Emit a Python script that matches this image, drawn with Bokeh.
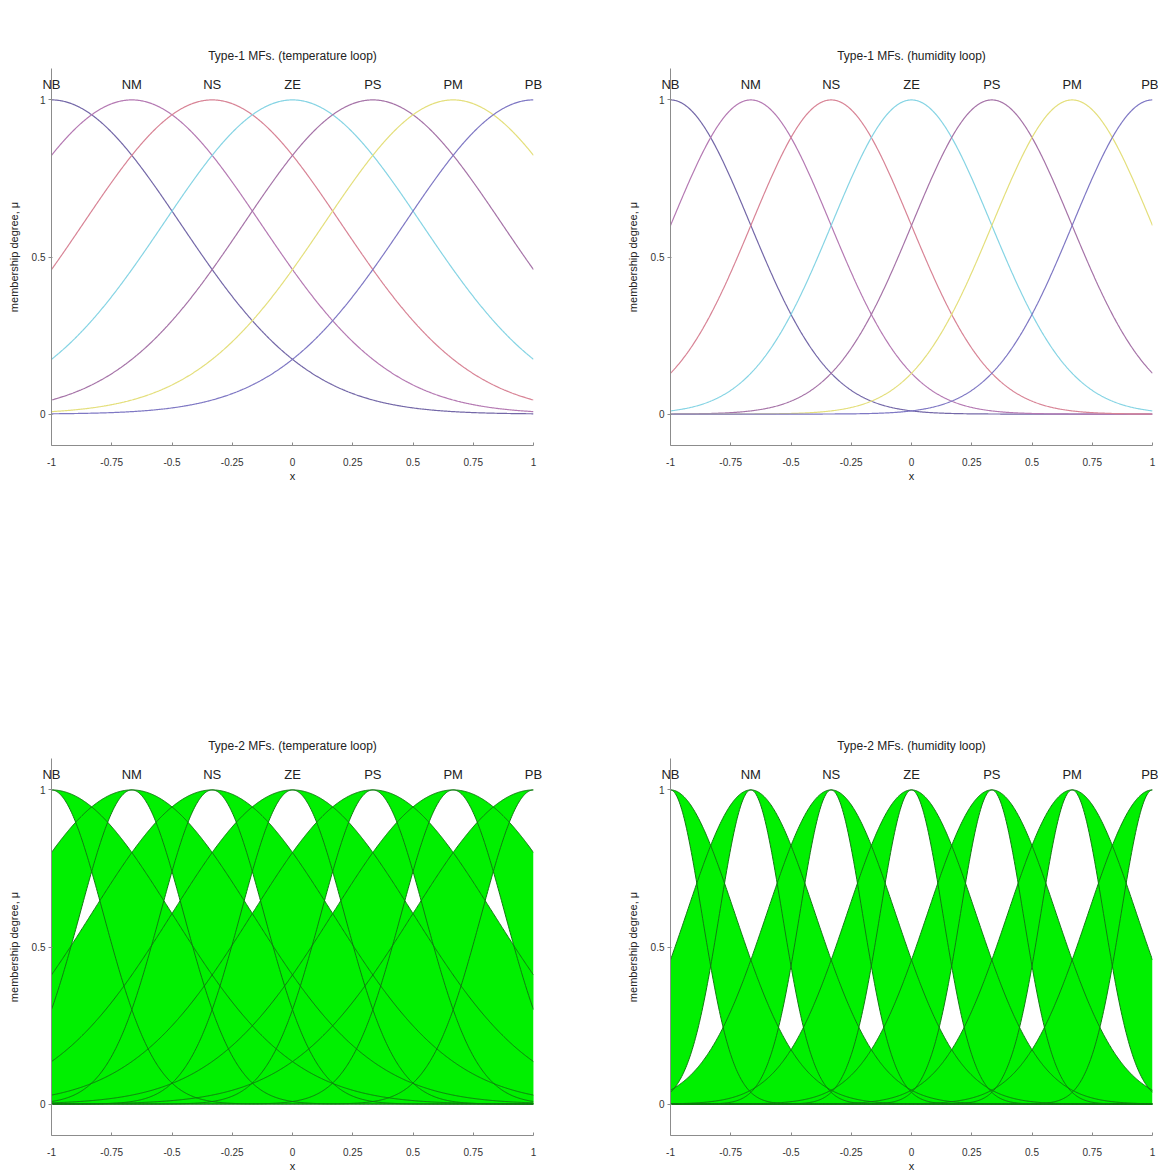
import numpy as np
from bokeh.plotting import figure
from bokeh.models import Range1d, FixedTicker, LinearAxis
from bokeh.layouts import column, row
from bokeh.embed import file_html
from bokeh.resources import INLINE

# ---------------- data ----------------
set_names = ["NB", "NM", "NS", "ZE", "PS", "PM", "PB"]
centers = [-1.0, -2.0 / 3, -1.0 / 3, 0.0, 1.0 / 3, 2.0 / 3, 1.0]

# Gaussian MF widths
t1_temp_sigma = 0.535
t1_hum_sigma = 0.33
t2_temp_sigma_lower = 0.215
t2_temp_sigma_upper = 0.50
t2_hum_sigma_lower = 0.13
t2_hum_sigma_upper = 0.267

t1_colors = ["#7468a8", "#b57ab3", "#d88496", "#86d4e4", "#a674a8", "#e4df7c", "#7f78c4"]

titles = [
    "Type-1 MFs. (temperature loop)",
    "Type-1 MFs. (humidity loop)",
    "Type-2 MFs. (temperature loop)",
    "Type-2 MFs. (humidity loop)",
]

x_ticks = [-1, -0.75, -0.5, -0.25, 0, 0.25, 0.5, 0.75, 1]
x_tick_labels = ["-1", "-0.75", "-0.5", "-0.25", "0", "0.25", "0.5", "0.75", "1"]
y_ticks = [0, 0.5, 1]
y_tick_labels = ["0", "0.5", "1"]

FONT = "Liberation Sans"
xs = np.linspace(-1, 1, 601)


def gauss(x, c, s):
    return np.exp(-((x - c) ** 2) / (2 * s * s))


def base_fig(title, bl, bt, br, bb):
    p = figure(frame_width=482, frame_height=377, output_backend="svg",
               toolbar_location=None, x_range=Range1d(-1, 1), y_range=Range1d(-0.1, 1.1),
               min_border_left=bl, min_border_top=bt, min_border_right=br, min_border_bottom=bb,
               title=title)
    p.title.align = "center"
    p.title.text_font = FONT
    p.title.text_font_size = "12px"
    p.title.text_font_style = "normal"
    p.title.text_color = "#222222"
    p.title.standoff = 12
    p.outline_line_color = None
    p.xgrid.visible = False
    p.ygrid.visible = False
    p.background_fill_color = "white"
    p.border_fill_color = "white"
    for ax in (p.xaxis[0], p.yaxis[0]):
        ax.axis_line_color = "#8c8c8c"
        ax.major_tick_line_color = "#8c8c8c"
        ax.minor_tick_line_color = None
        ax.major_label_text_font = FONT
        ax.major_label_text_font_size = "10px"
        ax.major_label_text_color = "#333333"
        ax.axis_label_text_font = FONT
        ax.axis_label_text_font_size = "11px"
        ax.axis_label_text_font_style = "normal"
        ax.axis_label_text_color = "#222222"
    p.xaxis.ticker = FixedTicker(ticks=x_ticks)
    p.xaxis.major_label_overrides = {t: l for t, l in zip(x_ticks, x_tick_labels)}
    p.xaxis.major_tick_in = 3
    p.xaxis.major_tick_out = 0
    p.xaxis.major_label_standoff = 12
    p.xaxis.axis_label = "x"
    p.xaxis.axis_label_standoff = 1
    p.yaxis.ticker = FixedTicker(ticks=y_ticks)
    p.yaxis.major_label_overrides = {t: l for t, l in zip(y_ticks, y_tick_labels)}
    p.yaxis.major_tick_in = 1
    p.yaxis.major_tick_out = 3
    p.yaxis.major_label_standoff = 3
    p.yaxis.axis_label = "membership degree, \u03bc"
    p.yaxis.axis_label_standoff = 9

    # set names shown along the top, as an extra axis above the frame
    top = LinearAxis(ticker=FixedTicker(ticks=centers),
                     major_label_overrides={c: n for c, n in zip(centers, set_names)})
    top.axis_line_color = None
    top.major_tick_line_color = None
    top.minor_tick_line_color = None
    top.major_label_text_font = FONT
    top.major_label_text_font_size = "13px"
    top.major_label_text_color = "#222222"
    top.major_label_standoff = -29
    p.add_layout(top, "above")
    return p


def type1(p, sigma):
    for c, col in zip(centers, t1_colors):
        p.line(xs, gauss(xs, c, sigma), line_color=col, line_width=1.2)


def type2(p, s_lo, s_hi):
    for c in centers:
        lo = gauss(xs, c, s_lo)
        hi = gauss(xs, c, s_hi)
        p.varea(x=xs, y1=lo, y2=hi, fill_color="#00f000", fill_alpha=1.0)
    for c in centers:
        p.line(xs, gauss(xs, c, s_lo), line_color="#127a12", line_width=1)
        p.line(xs, gauss(xs, c, s_hi), line_color="#127a12", line_width=1)


p1 = base_fig(titles[0], 51, 68, 20, 254)
type1(p1, t1_temp_sigma)
p2 = base_fig(titles[1], 117, 68, 6, 254)
type1(p2, t1_hum_sigma)
p3 = base_fig(titles[2], 51, 59, 20, 30)
type2(p3, t2_temp_sigma_lower, t2_temp_sigma_upper)
p4 = base_fig(titles[3], 117, 59, 6, 30)
type2(p4, t2_hum_sigma_lower, t2_hum_sigma_upper)

layout = column(row(p1, p2, spacing=0), row(p3, p4, spacing=0), spacing=0)

open("out.html", "w").write(file_html(layout, INLINE))
